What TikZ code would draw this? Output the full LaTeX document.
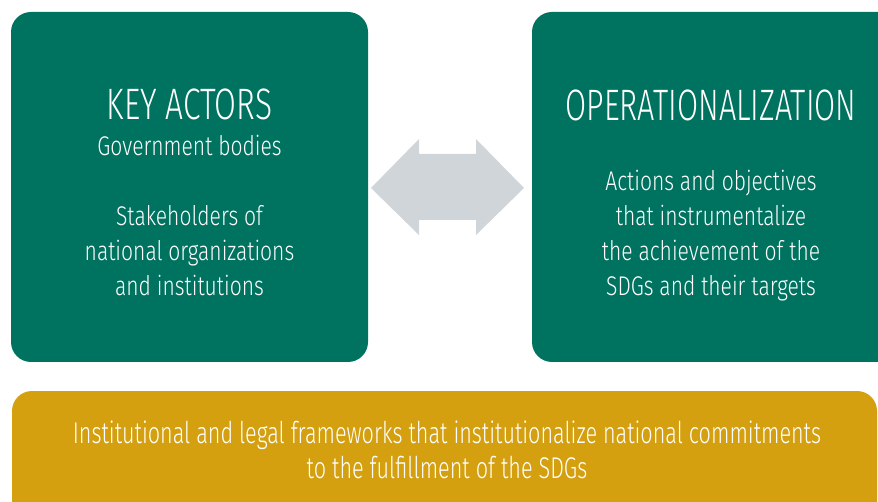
\documentclass[tikz,border=0pt]{standalone}
\usepackage{fontspec}
\usepackage{graphicx}
\setmainfont{Fira Sans}[UprightFont=* Light, FakeStretch=0.72]
\newfontfamily\bodyfont{Fira Sans}[UprightFont=* Light, FakeStretch=0.78]
\definecolor{boxgreen}{RGB}{0,115,96}
\definecolor{boxgold}{RGB}{212,160,16}
\definecolor{arrowgrey}{RGB}{208,213,217}
\begin{document}
\begin{tikzpicture}[x=1pt,y=1pt,
  panel/.style={fill=boxgreen, draw=none, rounded corners=20pt},
  bar/.style={fill=boxgold, draw=none, rounded corners=20pt},
  titletext/.style={text=white, inner sep=0pt, font=\fontsize{44}{50}\selectfont},
  bodytext/.style={text=white, inner sep=0pt, align=center, font=\bodyfont\fontsize{27}{35}\selectfont},
  bartext/.style={text=white, inner sep=0pt, align=center, font=\fontsize{30}{35}\selectfont}]
\useasboundingbox (0,0) rectangle (878,501);
% panels
\path[panel] (11,139) rectangle (368,489);
\path[panel] (532,139) rectangle (900,489);
\path[bar] (12,-30) rectangle (877,110);
% double arrow
\path[fill=arrowgrey] (371,313) -- (419,362) -- (419,347) -- (476,347) -- (476,362)
  -- (524,313) -- (476,266) -- (476,281) -- (419,281) -- (419,266) -- cycle;
% texts (base anchor = baseline of the last line)
\node[titletext, anchor=base] (kt) at (189.5,381) {KEY ACTORS};
\node[bodytext, anchor=base] (kb) at (189.5,205) {Government bodies\\[35pt]Stakeholders of\\national organizations\\and institutions};
\node[titletext, anchor=base] (ot) at (711,380) {\scalebox{0.965}[1]{OPERATIONALIZATION}};
\node[bodytext, anchor=base] (ob) at (711,205) {Actions and objectives\\that instrumentalize\\the achievement of the\\SDGs and their targets};
\node[bartext, anchor=base] (bt) at (447,23) {Institutional and legal frameworks that institutionalize national commitments\\to the fulfillment of the SDGs};
\end{tikzpicture}
\end{document}
